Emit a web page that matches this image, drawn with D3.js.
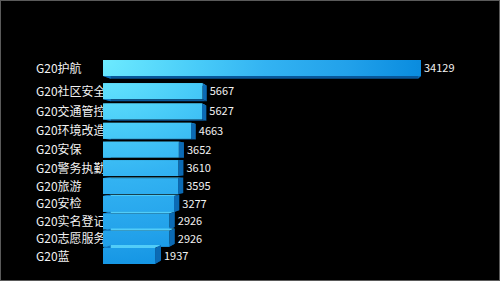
<!DOCTYPE html>
<html>
<head>
<meta charset="utf-8">
<script src="https://cdn.jsdelivr.net/npm/d3@7"></script>
<style>
  html, body { margin: 0; padding: 0; background: #000; }
  svg { display: block; }
</style>
</head>
<body>
<svg id="chart" width="500" height="281"></svg>
<script>
const categories = ["G20护航", "G20社区安全", "G20交通管控", "G20环境改造", "G20安保", "G20警务执勤", "G20旅游", "G20安检", "G20实名登记", "G20志愿服务", "G20蓝"];
const values = [34129, 5667, 5627, 4663, 3652, 3610, 3595, 3277, 2926, 2926, 1937];

const W = 500, H = 281;
const svg = d3.select("#chart");
const font = "'Noto Sans CJK SC', 'Noto Sans', sans-serif";

svg.append("rect").attr("x", 0).attr("y", 0).attr("width", W).attr("height", H).attr("fill", "#000");
svg.append("rect").attr("x", 0.5).attr("y", 0.5).attr("width", W - 1).attr("height", H - 1)
  .attr("fill", "none").attr("stroke", "#5a5a5a").attr("stroke-width", 1);

const defs = svg.append("defs");
const grad = defs.append("radialGradient").attr("id", "faceGrad")
  .attr("gradientUnits", "userSpaceOnUse")
  .attr("cx", 100).attr("cy", 60).attr("fx", 100).attr("fy", 60).attr("r", 330)
  .attr("gradientTransform", "translate(100,60) scale(1,0.72) translate(-100,-60)");
[[0, "#6eecff"], [0.3, "#48cbf8"], [0.5, "#33b3f2"], [0.75, "#22a1ea"], [0.95, "#0c8ee0"], [1, "#0a88da"]]
  .forEach(([o, c]) => grad.append("stop").attr("offset", o).attr("stop-color", c));

const idx = d3.range(categories.length);
const yScale = d3.scalePow().exponent(0.91).domain([0, categories.length - 1]).range([68, 256]);
const xScale = d3.scalePow().exponent(0.68).domain([0, d3.max(values)]).range([111, 421]);
const xStart = 103, faceH = 16;
const VP = { x: 330, y: 160 }, depth = 0.034;
const back = p => [p[0] + (VP.x - p[0]) * depth, p[1] + (VP.y - p[1]) * depth];
const poly = pts => pts.map(p => p.join(",")).join(" ");

// category labels (drawn first; bars overlap them)
svg.append("g").selectAll("text").data(idx).join("text")
  .attr("x", 36).attr("y", i => yScale(i) + 4.5)
  .attr("fill", "#f2f2f2").attr("font-family", font).attr("font-size", 12)
  .text(i => categories[i]);

const bars = svg.append("g");
idx.forEach(i => {
  const cy = yScale(i);
  const A = [xStart, cy - faceH / 2], B = [xScale(values[i]), cy - faceH / 2];
  const C = [xScale(values[i]), cy + faceH / 2], D = [xStart, cy + faceH / 2];
  const a = back(A), b = back(B), c = back(C), d = back(D);
  const g = bars.append("g");
  g.append("polygon").attr("points", poly([A, B, b, a])).attr("fill", "#52cdf8");
  g.append("polygon").attr("points", poly([D, C, c, d])).attr("fill", "#08579a");
  g.append("polygon").attr("points", poly([A, D, d, a])).attr("fill", "#0c74bf");
  g.append("polygon").attr("points", poly([B, C, c, b])).attr("fill", "#0b6ab4");
  g.append("rect").attr("x", A[0]).attr("y", A[1]).attr("width", B[0] - A[0]).attr("height", faceH)
    .attr("fill", "url(#faceGrad)");
});

svg.append("g").selectAll("text").data(idx).join("text")
  .attr("x", i => {
    const bx = xScale(values[i]);
    const bb = back([bx, yScale(i)]);
    return Math.max(bx, bb[0]) + 3;
  })
  .attr("y", i => yScale(i) + 4)
  .attr("fill", "#f2f2f2").attr("font-family", font).attr("font-size", 11)
  .text(i => values[i]);
</script>
</body>
</html>
